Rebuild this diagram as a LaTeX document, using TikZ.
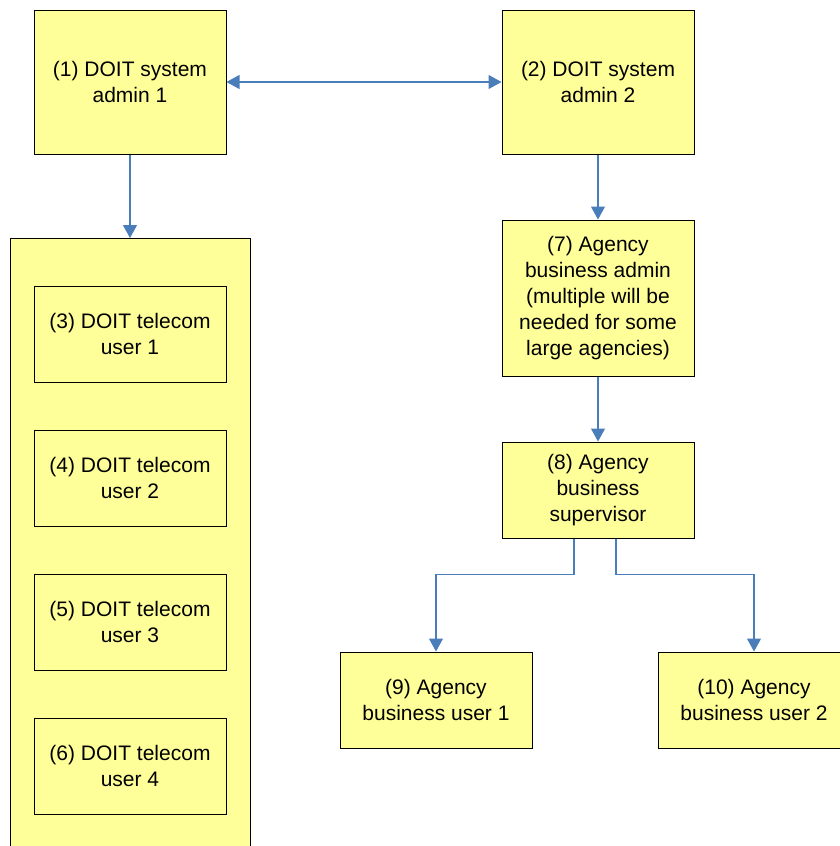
\documentclass[tikz,border=0pt]{standalone}
\usepackage{fontspec}
\setmainfont{Liberation Sans}
\usetikzlibrary{arrows.meta}
\definecolor{boxfill}{HTML}{FFFF99}
\definecolor{linkblue}{HTML}{4A7EBB}
\begin{document}
\begin{tikzpicture}[x=1pt,y=-1pt,
  box/.style={draw=black, line width=1pt, fill=boxfill, inner sep=0pt,
    minimum width=192pt, align=center,
    font=\fontsize{21}{26}\selectfont},
  link/.style={draw=linkblue, line width=1.1pt,
    -{Triangle[width=14pt,length=13pt]}},
  dlink/.style={draw=linkblue, line width=1.1pt,
    {Triangle[width=14pt,length=13pt]}-{Triangle[width=14pt,length=13pt]}}
]
\clip (0,0) rectangle (840,846);
\fill[white] (0,0) rectangle (840,846);

% top row: system admins
\node[box, minimum height=144pt] (b1) at (130,82) {(1) DOIT system\\admin 1};
\node[box, minimum height=144pt] (b2) at (598,82) {(2) DOIT system\\admin 2};

% telecom user group (runs past the bottom edge)
\node[box, minimum width=240pt, minimum height=640pt, anchor=north] (grp) at (130,238) {};
\node[box, minimum height=96pt] (b3) at (130,334) {(3) DOIT telecom\\user 1};
\node[box, minimum height=96pt] (b4) at (130,478) {(4) DOIT telecom\\user 2};
\node[box, minimum height=96pt] (b5) at (130,622) {(5) DOIT telecom\\user 3};
\node[box, minimum height=96pt] (b6) at (130,766) {(6) DOIT telecom\\user 4};

% agency chain
\node[box, minimum height=156pt] (b7) at (598,298) {(7) Agency\\business admin\\(multiple will be\\needed for some\\large agencies)};
\node[box, minimum height=96pt] (b8) at (598,490) {(8) Agency\\business\\supervisor};
\node[box, minimum height=96pt] (b9) at (436,700) {(9) Agency\\business user 1};
\node[box, minimum height=96pt] (b10) at (754,700) {(10) Agency\\business user 2};

% connectors
\draw[dlink] (b1.east) -- (b2.west);
\draw[link] (b1.south) -- (grp.north);
\draw[link] (b2.south) -- (b7.north);
\draw[link] (b7.south) -- (b8.north);
\draw[link] ([xshift=-24pt]b8.south) -- ++(0,36) -| (b9.north);
\draw[link] ([xshift=18pt]b8.south) -- ++(0,36) -| (b10.north);
\end{tikzpicture}
\end{document}
